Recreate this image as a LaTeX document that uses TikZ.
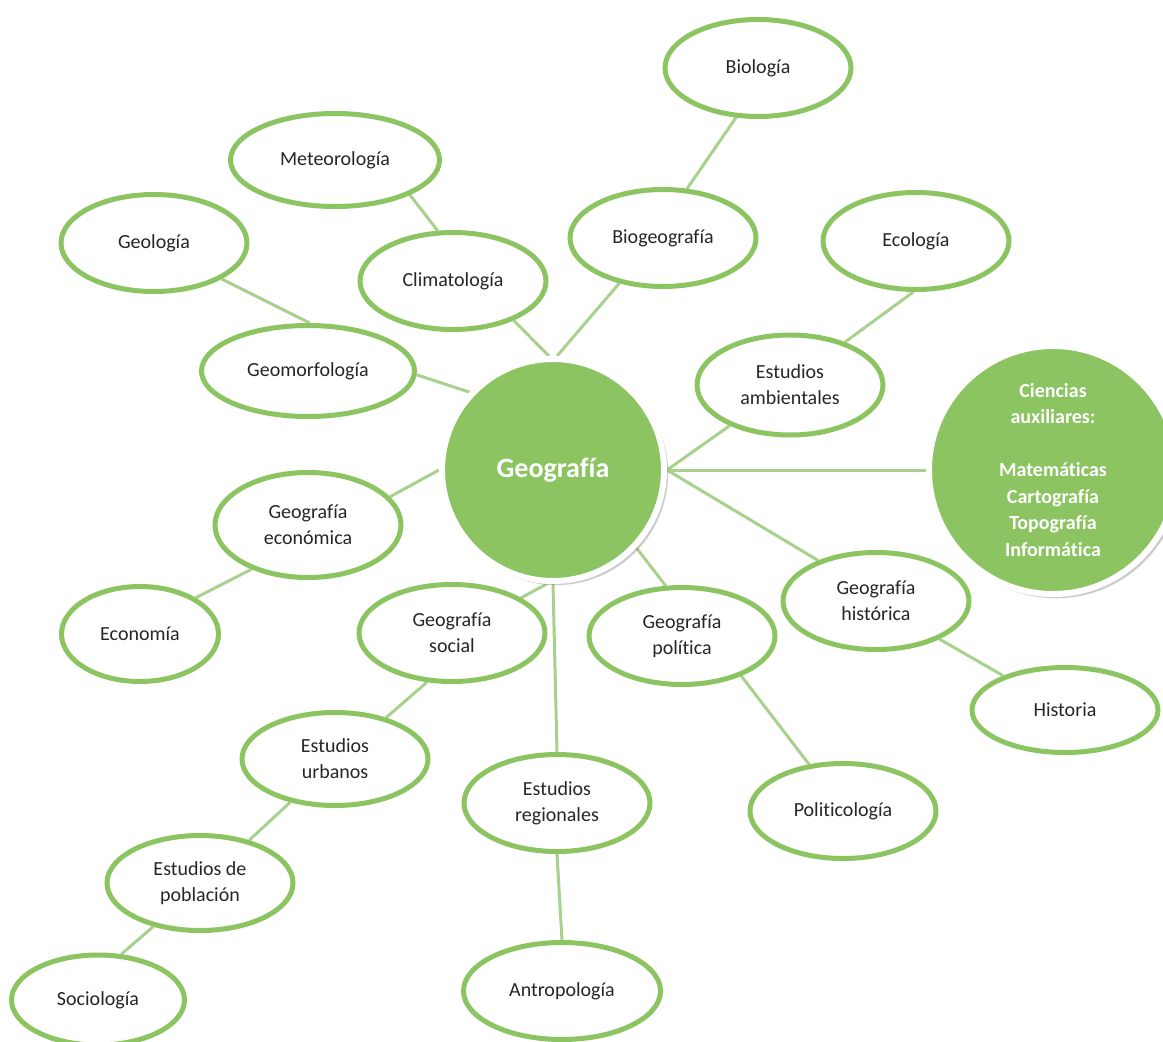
\documentclass[tikz,border=0pt]{standalone}
\usepackage{fontspec}
\setmainfont{Carlito}[Ligatures=NoCommon]
\usepackage{xcolor}
\usetikzlibrary{shapes.geometric, shadows, backgrounds}
\definecolor{leaf}{HTML}{8CC462}
\definecolor{twig}{HTML}{A9D18E}
\definecolor{ink}{HTML}{262626}

\begin{document}
\begin{tikzpicture}[
    x=1pt, y=-1pt,
    topic/.style={ellipse, draw=leaf, line width=5pt, fill=white, inner sep=0pt,
                  minimum width=186pt, minimum height=97pt, align=center,
                  text=ink, font=\fontsize{20}{26}\selectfont},
    hub/.style={circle, fill=leaf, draw=white, line width=6pt, inner sep=0pt,
                text=white, align=center,
                drop shadow={opacity=0.4, shadow scale=1.01,
                             shadow xshift=3pt, shadow yshift=-3pt}},
    link/.style={draw=twig, line width=3pt}
]
\useasboundingbox (0,0) rectangle (1163,1042);

% centre and auxiliary sciences
\node[hub, minimum size=222pt, font=\fontsize{28}{32}\bfseries\selectfont] (geo) at (553,470) {Geografía};
\node[hub, minimum size=248pt, font=\fontsize{20}{26.5}\bfseries\selectfont] (aux) at (1053,470)
  {Ciencias\\auxiliares:\\[26.5pt]Matemáticas\\Cartografía\\Topografía\\Informática};

% branches
\node[topic] (bio) at (758,68) {Biología};
\node[topic, minimum width=209pt, minimum height=93pt] (meteo) at (335,160) {Meteorología};
\node[topic] (geol) at (154,243) {Geología};
\node[topic] (clima) at (453,281) {Climatología};
\node[topic] (biogeo) at (663,238) {Biogeografía};
\node[topic] (eco) at (916,241) {Ecología};
\node[topic, minimum width=213pt, minimum height=91pt] (geomorf) at (308,371) {Geomorfología};
\node[topic, minimum height=100pt] (amb) at (790,385) {Estudios\\ambientales};
\node[topic, minimum height=105pt] (geco) at (308,525) {Geografía\\económica};
\node[topic, minimum width=157pt, minimum height=95pt] (econ) at (140,634) {Economía};
\node[topic] (gsoc) at (452,633) {Geografía\\social};
\node[topic] (gpol) at (682,636) {Geografía\\política};
\node[topic] (ghist) at (876,601) {Geografía\\histórica};
\node[topic, minimum height=85pt] (hist) at (1065,710) {Historia};
\node[topic, minimum height=93pt] (urb) at (335,759) {Estudios\\urbanos};
\node[topic] (reg) at (557,803) {Estudios\\regionales};
\node[topic, minimum height=95pt] (poli) at (843,811) {Politicología};
\node[topic, minimum height=95pt] (pob) at (200,883) {Estudios de\\población};
\node[topic, minimum width=173pt, minimum height=90pt] (socio) at (98,1000) {Sociología};
\node[topic, minimum width=197pt] (antro) at (562,991) {Antropología};

\begin{scope}[on background layer]
\draw[link] (bio.246) -- (biogeo.64);
\draw[link] (meteo.-25) -- (clima.107);
\draw[link] (geol.-28) -- (geomorf.88);
\draw[link] (clima.-33) -- (geo.92);
\draw[link] (biogeo.226) -- (geo.88);
\draw[link] (eco.267) -- (amb.38);
\draw[link] (geomorf.-2) -- (geo.137);
\draw[link] (amb.214) -- (geo.east);
\draw[link] (geo.east) -- (aux.west);
\draw[link] (geo.east) -- (ghist.145);
\draw[link] (geo.west) -- (geco.19);
\draw[link] (geco.218) -- (econ.33);
\draw[link] (geo.267) -- (gsoc.27);
\draw[link] (geo.south) -- (reg.north);
\draw[link] (geo.-43) -- (gpol.108);
\draw[link] (gsoc.243) -- (urb.39);
\draw[link] (urb.224) -- (pob.41);
\draw[link] (pob.223) -- (socio.63);
\draw[link] (reg.270) -- (antro.90);
\draw[link] (gpol.-34) -- (poli.126);
\draw[link] (ghist.-31) -- (hist.151);
\end{scope}

\end{tikzpicture}
\end{document}
